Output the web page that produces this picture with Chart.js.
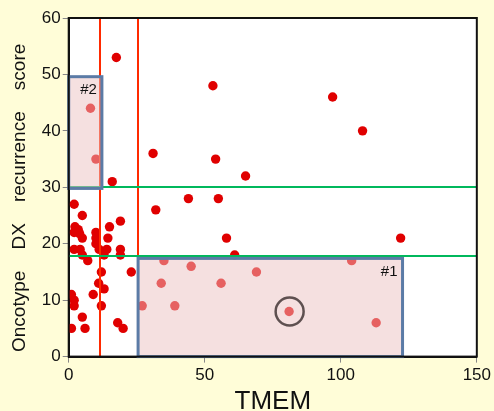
<!DOCTYPE html>
<html>
<head>
<meta charset="utf-8">
<script src="https://cdn.jsdelivr.net/npm/chart.js@4.4.1/dist/chart.umd.min.js"></script>
<style>
  html, body { margin: 0; padding: 0; background: #fffdd8; }
  #wrap { width: 494px; height: 411px; position: relative; }
</style>
</head>
<body>
<div id="wrap"><canvas id="scatterChart"></canvas></div>
<script>
// TMEM vs Oncotype DX recurrence score
const tmem = [
    17.5, 8, 10, 16, 31, 53, 54, 65, 44, 55, 32, 58, 61, 97, 108, 122,
    35, 45, 69, 34, 56, 27, 39, 81, 104, 113,
    23,
    2, 5, 19, 15, 2.3, 3.5, 2, 4, 5, 10, 10, 14.4, 10, 2, 4.2, 5, 7, 11.2, 14, 13, 19, 19,
    12, 11, 13, 9, 1, 2, 2, 12, 5, 1, 6, 18, 20
];
const recurrenceScore = [
    53, 44, 35, 31, 36, 48, 35, 32, 28, 28, 26, 21, 18, 46, 40, 21,
    17, 16, 15, 13, 13, 9, 9, 8, 17, 6,
    15,
    27, 25, 24, 23, 23, 22.5, 22, 21.8, 21, 22, 21, 21, 20, 19, 19, 18, 17, 19, 19, 18, 19, 18,
    15, 13, 12, 11, 11, 10, 9, 9, 7, 5, 5, 6, 5
];

const xTicks = [0, 50, 100, 150];
const yTicks = [0, 10, 20, 30, 40, 50, 60];

// cut-off lines
const tmemCutoffs = [11.5, 25.5];
const scoreCutoffs = [30, 17.8];

// highlighted regions: [xMin, xMax, yMin, yMax]
const boxNames = ['#1', '#2'];
const boxRanges = [[25.5, 122.7, 0, 17.4], [0, 12.2, 29.8, 49.6]];

// circled case
const circledPoint = [81.2, 8];

const FONT = '"Liberation Sans", Arial, sans-serif';

const overlayPlugin = {
    id: 'overlay',
    afterDatasetsDraw(chart) {
        const ctx = chart.ctx;
        const xs = chart.scales.x;
        const ys = chart.scales.y;
        const area = chart.chartArea;
        ctx.save();

        // red vertical lines
        ctx.strokeStyle = '#ff2a00';
        ctx.lineWidth = 2;
        tmemCutoffs.forEach(v => {
            const px = Math.round(xs.getPixelForValue(v));
            ctx.beginPath();
            ctx.moveTo(px, area.top);
            ctx.lineTo(px, area.bottom);
            ctx.stroke();
        });

        // green horizontal lines
        ctx.strokeStyle = '#00b85c';
        scoreCutoffs.forEach(v => {
            const py = Math.round(ys.getPixelForValue(v));
            ctx.beginPath();
            ctx.moveTo(area.left, py);
            ctx.lineTo(area.right, py);
            ctx.stroke();
        });

        // shaded boxes
        boxRanges.forEach((b, i) => {
            const x1 = xs.getPixelForValue(b[0]);
            const x2 = xs.getPixelForValue(b[1]);
            const y1 = ys.getPixelForValue(b[3]);
            const y2 = ys.getPixelForValue(b[2]);
            ctx.fillStyle = 'rgba(235,194,194,0.5)';
            ctx.fillRect(x1, y1, x2 - x1, y2 - y1);
            ctx.strokeStyle = '#5b7ba6';
            ctx.lineWidth = 3;
            ctx.strokeRect(x1, y1, x2 - x1, y2 - y1);
            ctx.fillStyle = '#111';
            ctx.font = '15px ' + FONT;
            ctx.textAlign = 'right';
            ctx.textBaseline = 'top';
            ctx.fillText(boxNames[i], x2 - 5, y1 + 6);
        });

        // circle around the highlighted case
        ctx.strokeStyle = '#5e5050';
        ctx.lineWidth = 2.5;
        ctx.beginPath();
        ctx.arc(xs.getPixelForValue(circledPoint[0]), ys.getPixelForValue(circledPoint[1]), 14, 0, Math.PI * 2);
        ctx.stroke();

        // frame
        ctx.strokeStyle = '#111';
        ctx.lineWidth = 2;
        ctx.strokeRect(area.left, area.top, area.right - area.left, area.bottom - area.top);
        ctx.restore();
    },
    beforeDraw(chart) {
        const a = chart.chartArea;
        chart.ctx.save();
        chart.ctx.fillStyle = '#ffffff';
        chart.ctx.fillRect(a.left, a.top, a.right - a.left, a.bottom - a.top);
        chart.ctx.restore();
    }
};

const points = tmem.map((x, i) => ({ x: x, y: recurrenceScore[i] }));

new Chart(document.getElementById('scatterChart').getContext('2d'), {
    type: 'scatter',
    data: {
        datasets: [{
            data: points,
            backgroundColor: '#e00000',
            borderColor: '#e00000',
            borderWidth: 0,
            pointRadius: 4.7
        }]
    },
    options: {
        responsive: true,
        maintainAspectRatio: false,
        animation: false,
        layout: { padding: { top: 18, right: 12, left: 8, bottom: -4 } },
        plugins: {
            legend: { display: false },
            tooltip: { enabled: false }
        },
        scales: {
            x: {
                type: 'linear',
                min: 0,
                max: 150,
                afterBuildTicks: axis => { axis.ticks = xTicks.map(v => ({ value: v })); },
                grid: { drawOnChartArea: false, tickLength: 6, tickColor: '#888', drawTicks: true },
                border: { color: '#111', width: 2 },
                ticks: { color: '#111', padding: 3, font: { size: 17, family: FONT } },
                title: { display: true, text: 'TMEM', color: '#111', padding: { top: 0, bottom: 0 },
                         font: { size: 26, family: FONT, lineHeight: 1.0 } }
            },
            y: {
                type: 'linear',
                min: 0,
                max: 60,
                afterBuildTicks: axis => { axis.ticks = yTicks.map(v => ({ value: v })); },
                grid: { drawOnChartArea: false, tickLength: 6, tickColor: '#888', drawTicks: true },
                border: { color: '#111', width: 2 },
                ticks: { color: '#111', padding: 2, font: { size: 17, family: FONT } },
                title: { display: true, text: 'Oncotype    DX    recurrence    score    ', color: '#111',
                         padding: { top: 0, bottom: 9 }, font: { size: 19, family: FONT } }
            }
        }
    },
    plugins: [overlayPlugin]
});
</script>
</body>
</html>
